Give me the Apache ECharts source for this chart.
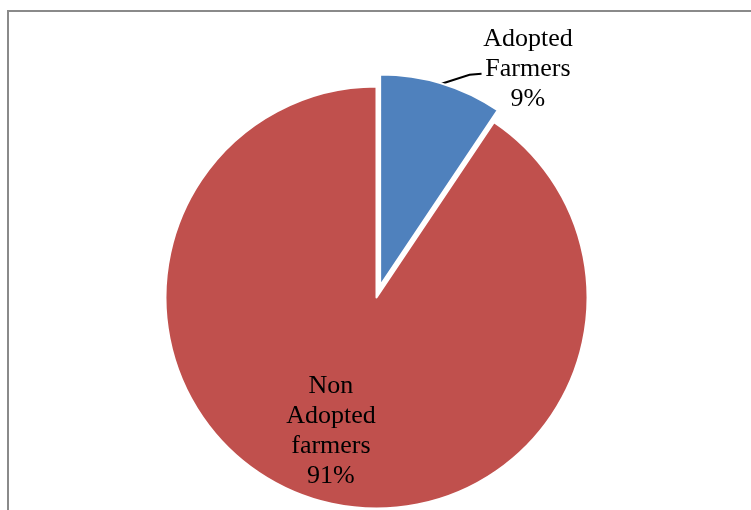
<!DOCTYPE html>
<html><head><meta charset="utf-8">
<script src="https://cdn.jsdelivr.net/npm/echarts@6/dist/echarts.min.js"></script>
<style>html,body{margin:0;padding:0;background:#fff}#c{width:751px;height:510px}</style>
</head><body><div id="c"></div>
<script>
const categories = ['Adopted\nFarmers', 'Non\nAdopted\nfarmers'];
const values = [9.4, 90.6];
const colors = ['#4F81BD', '#C0504D'];

const chart = echarts.init(document.getElementById('c'), null, {renderer: 'canvas'});
const data = categories.map(function (name, i) {
  return {
    name: name,
    value: values[i],
    selected: i === 0,
    itemStyle: {color: colors[i]},
    label: {position: i === 0 ? 'outside' : 'inside'},
    labelLine: {show: i === 0, length: 15, length2: 10}
  };
});
const option = {
  animation: false,
  graphic: [{
    type: 'rect', silent: true, z: -1,
    shape: {x: 8, y: 11, width: 800, height: 600},
    style: {fill: 'none', stroke: '#8a8a8a', lineWidth: 2}
  }],
  series: [{
    type: 'pie',
    center: [376.5, 297.5],
    radius: 211,
    startAngle: 90,
    clockwise: true,
    selectedMode: 'single',
    selectedOffset: 12.5,
    percentPrecision: 0,
    avoidLabelOverlap: false,
    emphasis: {disabled: true},
    select: {itemStyle: {borderColor: '#fff', borderWidth: 2}},
    itemStyle: {borderColor: '#fff', borderWidth: 2},
    label: {
      fontFamily: 'Liberation Serif', fontSize: 26, lineHeight: 30,
      color: '#000', formatter: '{b}\n{d}%'
    },
    labelLine: {lineStyle: {color: '#000', width: 2}},
    labelLayout: function (p) {
      if (p.dataIndex === 0) {
        const pts = p.labelLinePoints;
        if (!pts) return {};
        const a = pts[0];
        return {
          dx: 67, dy: 0, align: 'center', verticalAlign: 'middle',
          labelLinePoints: [[a[0], a[1]], [a[0] + 28, a[1] - 9], [a[0] + 40, a[1] - 10]]
        };
      }
      return {dx: -14, dy: 30};
    },
    data: data
  }]
};
chart.setOption(option);
</script></body></html>
